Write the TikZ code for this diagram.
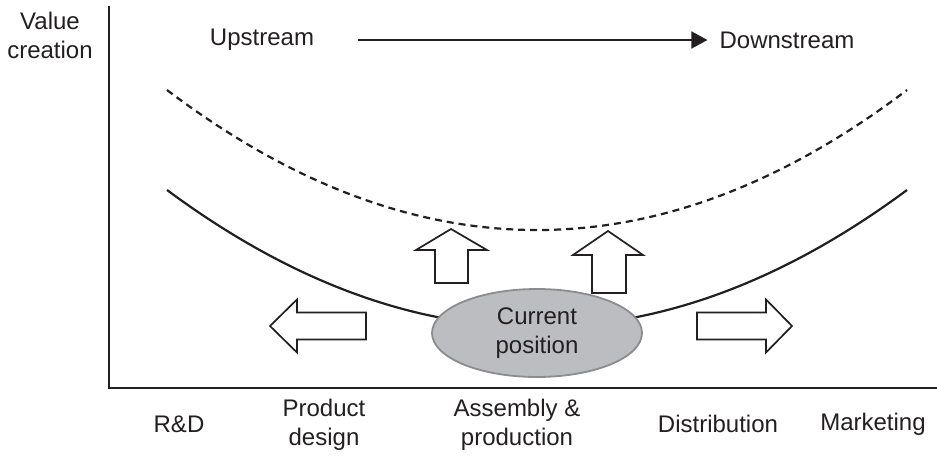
\documentclass[tikz,border=0pt]{standalone}
\usepackage{fontspec}
\setmainfont{Liberation Sans}
\usetikzlibrary{arrows.meta,shapes.geometric}
\definecolor{ink}{HTML}{231F20}
\definecolor{bubble}{HTML}{BCBDC0}
\definecolor{bubbleedge}{HTML}{8C8C8E}
\begin{document}
\begin{tikzpicture}[x=1pt,y=-1pt,
  lbl/.style={font=\fontsize{24}{29}\selectfont,text=ink,align=center,inner sep=0pt},
  axis/.style={draw=ink,line width=1.6pt},
  curve/.style={draw=ink,line width=2.2pt},
  blockarrow/.style={draw=ink,line width=1.7pt,fill=white,line join=miter}]
\useasboundingbox (0,0) rectangle (937,456);

% axes
\coordinate (origin) at (109,388);
\coordinate (ytop) at (109,6);
\coordinate (xend) at (937,388);
\draw[axis] (ytop) -- (origin) -- (xend);

% axis titles
\node[lbl] (vc) at (50,35) {Value\\creation};
\node[lbl] (up) at (262,40) {Upstream};
\node[lbl] (down) at (787,40) {Downstream};
\draw[draw=ink,line width=1.7pt,-{Triangle[length=16pt,width=17pt]},shorten <=44pt,shorten >=12pt] (up) -- (down);

% value curves
\draw[curve,dash pattern=on 7pt off 5pt] (167,90) .. controls (413.7,276.7) and (660.3,276.7) .. (907,90);
\draw[curve] (167,190) .. controls (413.7,372.7) and (660.3,372.7) .. (907,190);

% block arrows
\draw[blockarrow] (270,326) -- (297,299.5) -- (297,312.5) -- (366,312.5) -- (366,339.5) -- (297,339.5) -- (297,352.5) -- cycle;
\draw[blockarrow] (792,326) -- (766,299.5) -- (766,312.5) -- (697,312.5) -- (697,339.5) -- (766,339.5) -- (766,352.5) -- cycle;
\draw[blockarrow] (451,229) -- (487,250) -- (468,250) -- (468,283) -- (435,283) -- (435,250) -- (416,250) -- cycle;
\draw[blockarrow] (608,231) -- (643,255) -- (626,255) -- (626,293) -- (592,293) -- (592,255) -- (573,255) -- cycle;

% current position
\node[ellipse,draw=bubbleedge,fill=bubble,line width=1.8pt,minimum width=210pt,minimum height=88pt,inner sep=0pt] (cur) at (537,333) {};
\node[lbl] (curtxt) at (cur.center) {Current\\position};

% value chain stages
\node[lbl] (rd) at (179,424) {R\&D};
\node[lbl] (pd) at (324,425) {Product\\design};
\node[lbl] (ap) at (517,425) {Assembly \&\\production};
\node[lbl] (dist) at (718,424) {Distribution};
\node[lbl] (mkt) at (873,424) {Marketing};
\end{tikzpicture}
\end{document}
